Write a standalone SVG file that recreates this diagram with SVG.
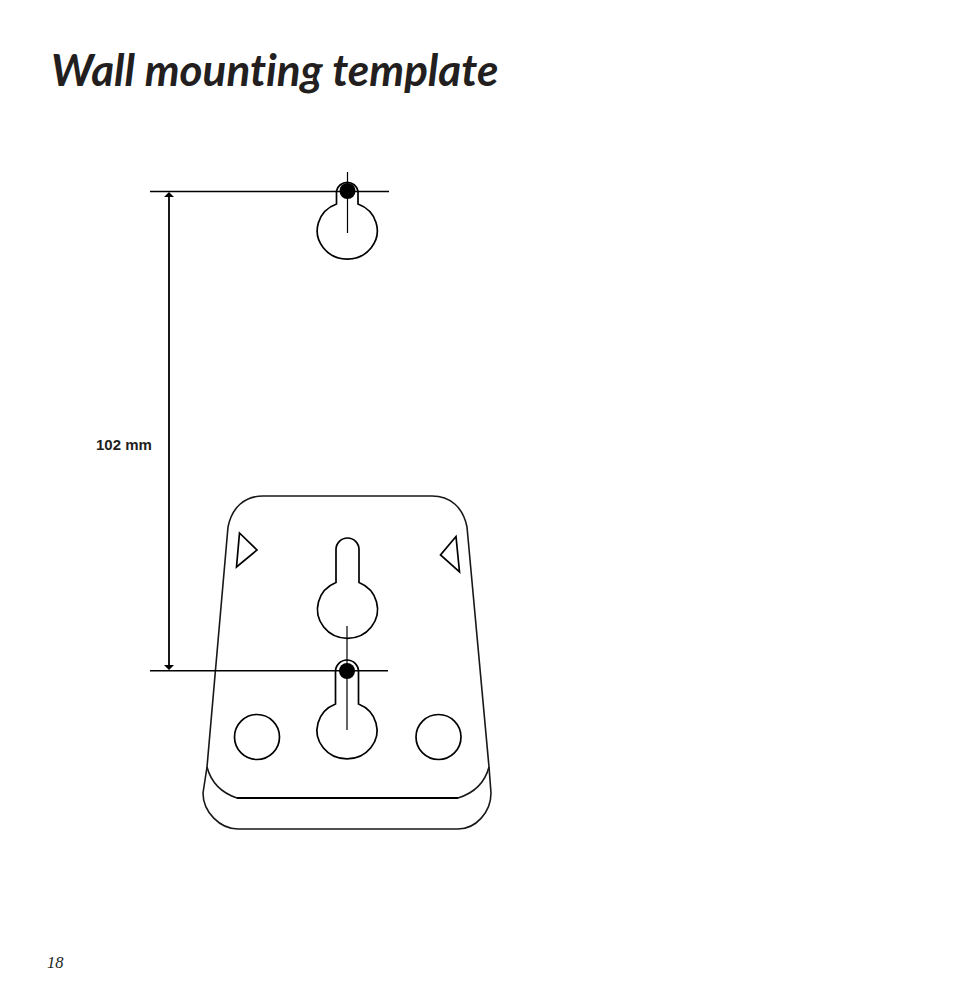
<svg xmlns="http://www.w3.org/2000/svg" width="954" height="986" viewBox="0 0 954 986">
<style>
.o{fill:none;stroke:#1a1718;stroke-width:1.6;stroke-linejoin:round}
.k{fill:none;stroke:#000;stroke-width:1.7}
.t{fill:#231f20;font-family:"Lato","Liberation Sans",sans-serif;font-size:44px;font-weight:700;font-style:italic;font-variant-ligatures:none}
.d{fill:#231f20;font-family:"Liberation Sans",Arial,sans-serif;font-size:15px;font-weight:700}
.p{fill:#231f20;font-family:"Liberation Serif","Times New Roman",serif;font-size:16.5px;font-style:italic}
</style>
<rect width="954" height="986" fill="#fff"/>
<text id="title" class="t" x="51" y="85.500">Wall mounting template</text>
<g id="plate">
<path class="o" d="M207,767 L228,527 C232,507 245,496 263,496 L432,496 C450,496 463,507 467,527 L489,767 C485,782 474,793 458,798 L237,798 C222,793 211,782 207,767 Z"/>
<path class="o" d="M207,767 L203,793 C203,812 220,829 238,829 L458,829 C476,829 491,812 491,793 L489,767"/>
<path d="M237,798 L458,798" fill="none" stroke="#000" stroke-width="2"/>
</g>
<g id="triangle-left"><path class="k" d="M239.500,533 L257,550 L236.500,567 Z"/></g>
<g id="triangle-right"><path class="k" d="M456,536.500 L440.500,555 L459.500,572 Z"/></g>
<g id="keyhole-top"><path class="k" d="M336.500,204 V191 A11,11 0 0 1 358,191 V204 A30,28.500 0 1 1 336.500,204 Z"/></g>
<g id="keyhole-middle"><path class="k" d="M336,582.500 V549.500 A11.500,11.500 0 0 1 359,549.500 V582.500 A30,29 0 1 1 336,582.500 Z"/></g>
<g id="keyhole-bottom"><path class="k" d="M335.500,704 V671.500 A11.500,11.500 0 0 1 358.500,671.500 V704 A30,28.500 0 1 1 335.500,704 Z"/></g>
<g id="hole-left"><circle class="k" cx="257" cy="737" r="22.500"/></g>
<g id="hole-right"><circle class="k" cx="438.500" cy="737" r="22.500"/></g>
<g id="screw-top"><circle cx="347.500" cy="191" r="8" fill="#000"/></g>
<g id="screw-bottom"><circle cx="347" cy="671" r="8" fill="#000"/></g>
<g id="connectors" fill="none" stroke="#000">
<path stroke-width="1.600" d="M150,191.500 H389 M150,670.700 H388"/>
<path stroke-width="1.200" d="M347.500,172 V233 M347,626 V730"/>
<path stroke-width="1.800" d="M169,196 V666"/>
<path stroke="none" fill="#000" d="M169,192 L174,197 H164 Z M169,670 L164,665 H174 Z"/>
</g>
<text id="dimension-label" class="d" x="96" y="450">102 mm</text>
<text id="page-number" class="p" x="47" y="968">18</text>
</svg>
